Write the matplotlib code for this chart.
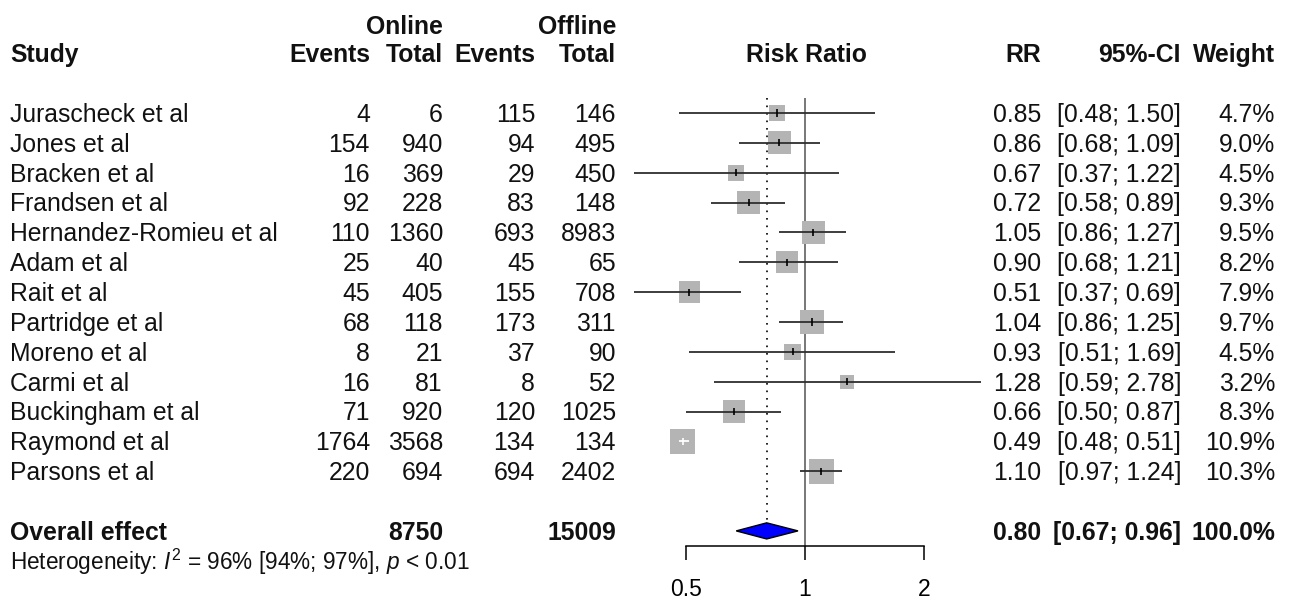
import numpy as np
import matplotlib
matplotlib.use('Agg')
import matplotlib.pyplot as plt
from matplotlib.ticker import NullLocator, FixedLocator, FixedFormatter

plt.rcParams['font.family'] = ['Liberation Sans', 'DejaVu Sans']
plt.rcParams['mathtext.fontset'] = 'custom'
plt.rcParams['mathtext.rm'] = 'Liberation Sans'
plt.rcParams['mathtext.it'] = 'Liberation Sans:italic'
plt.rcParams['mathtext.bf'] = 'Liberation Sans:bold'

# ---------------- data ----------------
studies = ["Jurascheck et al", "Jones et al", "Bracken et al", "Frandsen et al",
           "Hernandez-Romieu et al", "Adam et al", "Rait et al", "Partridge et al",
           "Moreno et al", "Carmi et al", "Buckingham et al", "Raymond et al",
           "Parsons et al"]
online_events = [4, 154, 16, 92, 110, 25, 45, 68, 8, 16, 71, 1764, 220]
online_total = [6, 940, 369, 228, 1360, 40, 405, 118, 21, 81, 920, 3568, 694]
offline_events = [115, 94, 29, 83, 693, 45, 155, 173, 37, 8, 120, 134, 694]
offline_total = [146, 495, 450, 148, 8983, 65, 708, 311, 90, 52, 1025, 134, 2402]
rr = [0.85, 0.86, 0.67, 0.72, 1.05, 0.90, 0.51, 1.04, 0.93, 1.28, 0.66, 0.49, 1.10]
ci_low = [0.48, 0.68, 0.37, 0.58, 0.86, 0.68, 0.37, 0.86, 0.51, 0.59, 0.50, 0.48, 0.97]
ci_high = [1.50, 1.09, 1.22, 0.89, 1.27, 1.21, 0.69, 1.25, 1.69, 2.78, 0.87, 0.51, 1.24]
weight = [4.7, 9.0, 4.5, 9.3, 9.5, 8.2, 7.9, 9.7, 4.5, 3.2, 8.3, 10.9, 10.3]

overall_label = "Overall effect"
overall_online_total = 8750
overall_offline_total = 15009
overall_rr = 0.80
overall_low = 0.67
overall_high = 0.96
overall_weight = 100.0
heterogeneity = r"Heterogeneity: $\mathit{I}^{2}$ = 96% [94%; 97%], $\mathit{p}$ < 0.01"
x_ticks = [0.5, 1, 2]
x_tick_labels = ["0.5", "1", "2"]

# ---------------- layout ----------------
W, H, DPI = 1290, 601, 100
ROW0_PX, ROW_PX = 113.0, 29.85


def px_to_row(p):
    return (p - ROW0_PX) / ROW_PX


ylim = (px_to_row(H), px_to_row(0))

fig = plt.figure(figsize=(W / DPI, H / DPI), dpi=DPI, facecolor='white')
tax = fig.add_axes([0, 0, 1, 1])
tax.set_xlim(0, W)
tax.set_ylim(*ylim)
tax.axis('off')

FX0, FX1 = 600, 1000
PX_REF, PX_PER_DOUBLING = 805.0, 119.0


def px_to_rr(p):
    return 2 ** ((p - PX_REF) / PX_PER_DOUBLING)


fax = fig.add_axes([FX0 / W, 0, (FX1 - FX0) / W, 1])
fax.set_xscale('log', base=2)
fax.set_xlim(px_to_rr(FX0), px_to_rr(FX1))
fax.set_ylim(*ylim)
fax.patch.set_alpha(0)
for s in ['left', 'right', 'top']:
    fax.spines[s].set_visible(False)
fax.yaxis.set_visible(False)
fax.spines['bottom'].set_position(('data', 14.5))
fax.spines['bottom'].set_bounds(0.5, 2)
fax.spines['bottom'].set_linewidth(1.1)
fax.xaxis.set_major_locator(FixedLocator(x_ticks))
fax.xaxis.set_major_formatter(FixedFormatter(x_tick_labels))
fax.xaxis.set_minor_locator(NullLocator())
fax.tick_params(axis='x', which='major', length=10.3, width=1.1, direction='out',
                pad=12.8, labelsize=16.5, colors='black')

FS = 17.8
FS_HET = 16.3
C_TEXT = '#111111'


def put(x, row, s, ha='right', bold=False, size=FS):
    off = 0.358 * size / 72 * DPI / ROW_PX
    tax.text(x, row + off, s, ha=ha, va='baseline', fontsize=size,
             fontweight='bold' if bold else 'normal', color=C_TEXT)


# column right edges (px)
X_STUDY = 10
X_OE, X_OT, X_FE, X_FT = 370, 443, 535, 616
X_RR, X_CI, X_W = 1041, 1181, 1275

# headers
put(X_OT, -2.95, "Online", bold=True)
put(X_FT, -2.95, "Offline", bold=True)
put(X_STUDY, -2, "Study", ha='left', bold=True)
put(X_OE, -2, "Events", bold=True)
put(X_OT, -2, "Total", bold=True)
put(X_FE, -2, "Events", bold=True)
put(X_FT, -2, "Total", bold=True)
put(806, -2, "Risk Ratio", ha='center', bold=True)
put(X_RR, -2, "RR", bold=True)
put(X_CI, -2, "95%-CI", bold=True)
put(X_W, -2, "Weight", bold=True)

n = len(studies)
for i in range(n):
    put(X_STUDY, i, studies[i], ha='left')
    put(X_OE, i, str(online_events[i]))
    put(X_OT, i, str(online_total[i]))
    put(X_FE, i, str(offline_events[i]))
    put(X_FT, i, str(offline_total[i]))
    put(X_RR, i, f"{rr[i]:.2f}")
    put(X_CI, i, f"[{ci_low[i]:.2f}; {ci_high[i]:.2f}]")
    put(X_W, i, f"{weight[i]:.1f}%")

OV = n + 1
put(X_STUDY, OV, overall_label, ha='left', bold=True)
put(X_OT, OV, str(overall_online_total), bold=True)
put(X_FT, OV, str(overall_offline_total), bold=True)
put(X_RR, OV, f"{overall_rr:.2f}", bold=True)
put(X_CI, OV, f"[{overall_low:.2f}; {overall_high:.2f}]", bold=True)
put(X_W, OV, f"{overall_weight:.1f}%", bold=True)
put(X_STUDY, OV + 1.04, heterogeneity, ha='left', size=FS_HET)

# ---------------- forest ----------------
DIA_H = 0.27
fax.plot([1, 1], [-0.5, 14.5], color='#777777', lw=1.4, zorder=1, solid_capstyle='butt')
fax.plot([overall_rr, overall_rr], [-0.5, OV - DIA_H], color='black', lw=1.2,
         linestyle=(0, (1, 3.5)), zorder=1)

K_SIDE = 7.7  # px per sqrt(weight)
rows = np.arange(n)
side_px = K_SIDE * np.sqrt(np.array(weight))
side_pt = side_px * 72 / DPI
fax.scatter(rr, rows, s=side_pt ** 2, marker='s', color='#b4b4b4', linewidths=0, zorder=2)

for i in range(n):
    half = side_px[i] / 2
    lo_px = (np.log2(rr[i]) - np.log2(ci_low[i])) * PX_PER_DOUBLING
    hi_px = (np.log2(ci_high[i]) - np.log2(rr[i])) * PX_PER_DOUBLING
    inside = lo_px < half and hi_px < half
    col = 'white' if inside else '#2e2e2e'
    fax.plot([ci_low[i], ci_high[i]], [i, i], color=col, lw=1.3, zorder=3,
             solid_capstyle='butt')
    fax.plot([rr[i], rr[i]], [i - 0.12, i + 0.12], color='white' if inside else 'black',
             lw=1.2, zorder=4, solid_capstyle='butt')

fax.fill([overall_low, overall_rr, overall_high, overall_rr],
         [OV, OV - DIA_H, OV, OV + DIA_H], facecolor='#0000ff', edgecolor='black',
         lw=1.0, zorder=3)

fig.savefig('out.png', dpi=DPI, facecolor='white')
